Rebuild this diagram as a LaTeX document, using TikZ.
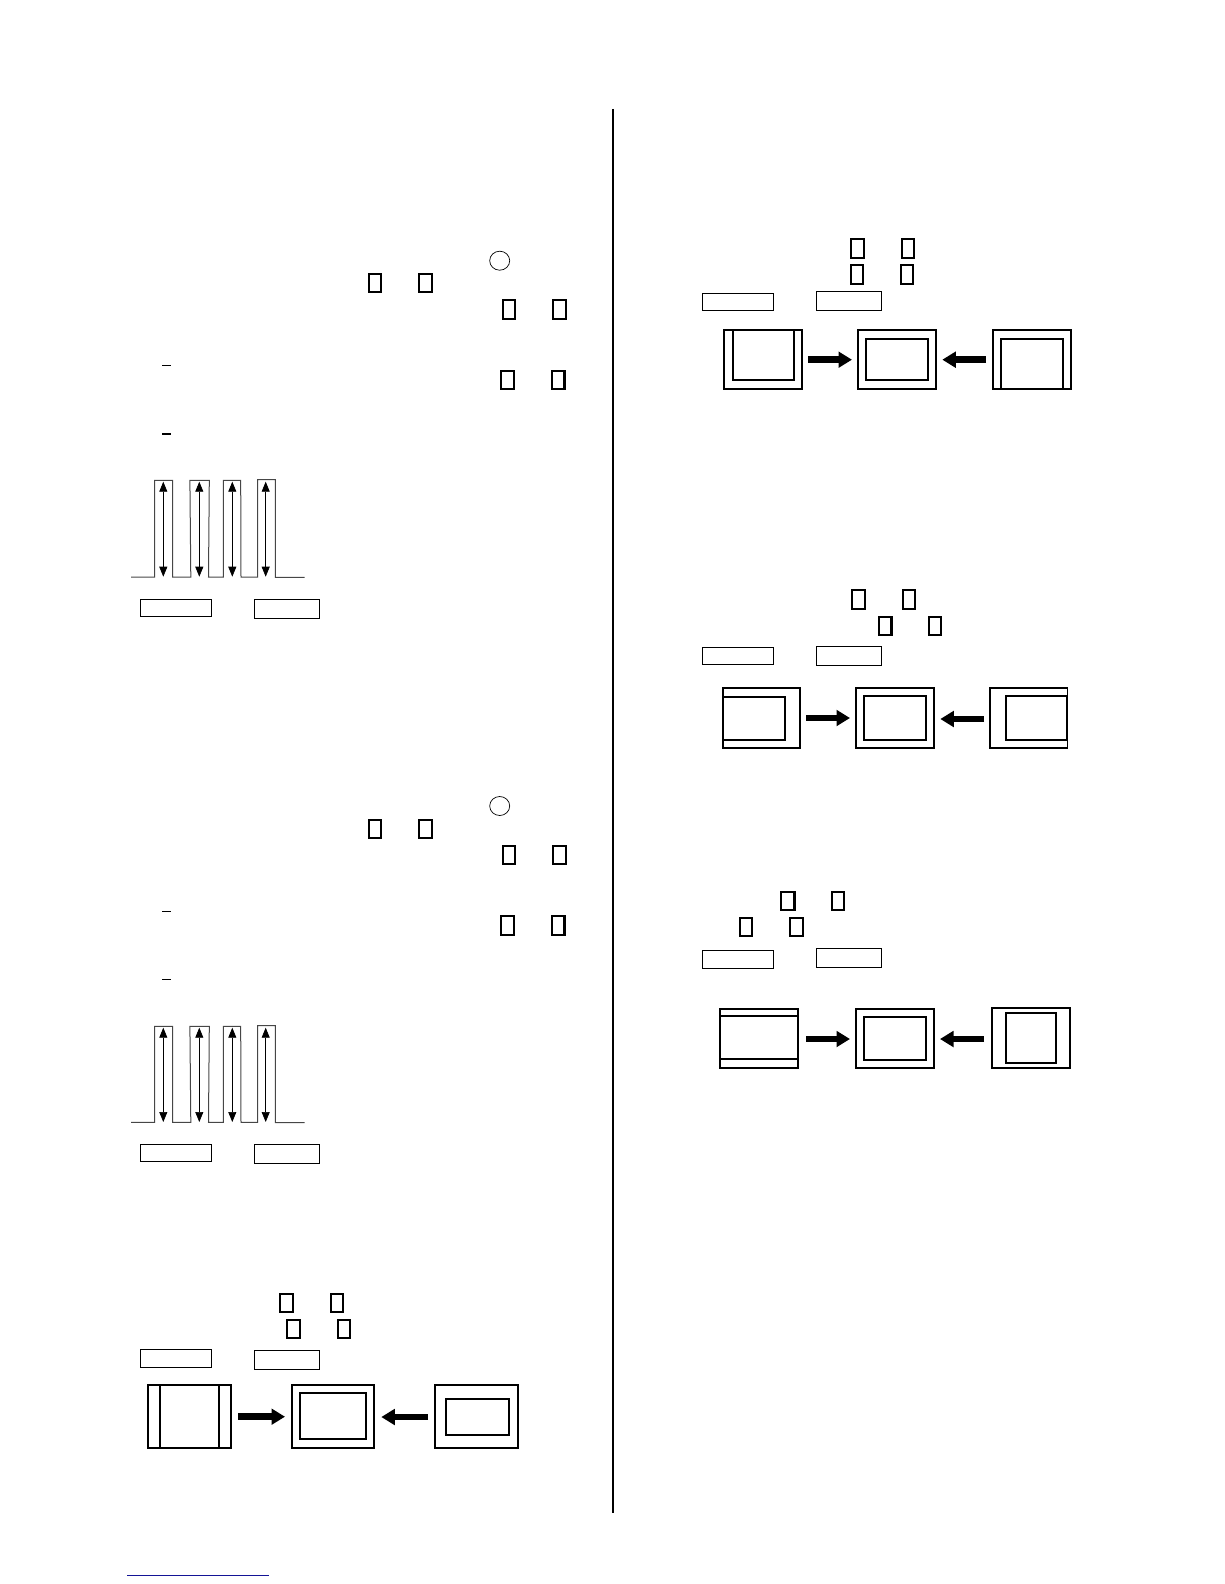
\documentclass[tikz,border=0pt]{standalone}
\usetikzlibrary{arrows.meta,shapes.geometric}
\definecolor{linkblue}{RGB}{20,20,150}
\definecolor{pulsegray}{RGB}{70,70,70}
\tikzset{
  bxbase/.style={draw=black,inner sep=0pt,outer sep=0pt,rectangle},
  smallsq/.style={bxbase,line width=2.3pt,/utils/exec={\def\bxin{1.2}}},
  labelbox/.style={bxbase,line width=0.9pt,/utils/exec={\def\bxin{0.3}}},
  screenbox/.style={bxbase,line width=2pt,/utils/exec={\def\bxin{1}}},
  thinscreen/.style={bxbase,line width=1.3pt,/utils/exec={\def\bxin{0.6}}},
  innerline/.style={draw=black,line width=2pt},
  ringmark/.style={draw=black,line width=0.7pt,ellipse,inner sep=0pt,minimum width=20pt,minimum height=19pt},
  tickline/.style={draw=black,line width=0.8pt},
  boldtick/.style={draw=black,line width=1.9pt},
  pulseline/.style={draw=pulsegray,line width=1pt},
  rangearrow/.style={draw=black,line width=0.7pt,{Triangle[length=10pt,width=8pt]}-{Triangle[length=10pt,width=8pt]}},
  fatarrow/.style={draw=black,line width=6.5pt,-{Triangle[length=13.5pt,width=15.5pt]}},
  divider/.style={draw=black,line width=2.2pt},
  footlink/.style={draw=linkblue,line width=0.9pt}
}
% name, style, x1, y1, x2, y2
\newcommand{\bx}[6]{\node[#2,minimum width={(#5-#3-\bxin)*1pt},minimum height={(#6-#4-\bxin)*1pt}] (#1) at ({(#3+#5)/2},{(#4+#6)/2}) {};}
\begin{document}
\begin{tikzpicture}[x=1pt,y=-1pt]
\useasboundingbox (0,0) rectangle (1224,1584);

% divider and foot
\coordinate (divT) at (613,109);
\coordinate (divB) at (613,1513);
\draw[divider] (divT) -- (divB);
\coordinate (footL) at (127,1575);
\coordinate (footR) at (269,1575);
\draw[footlink] (footL) -- (footR);

% ===== top-left block =====
\node[ringmark] (ringA) at (499.7,260.7) {};
\bx{a1}{smallsq}{368.7}{273.3}{381.7}{292.3}
\bx{a2}{smallsq}{418.3}{273.3}{432.7}{292.3}
\bx{a3}{smallsq}{502.3}{299.3}{515.7}{319.3}
\bx{a4}{smallsq}{552.7}{299.3}{566.7}{319.3}
\bx{a5}{smallsq}{500.3}{370.7}{514.7}{389.3}
\bx{a6}{smallsq}{551.3}{370.7}{565}{389.3}
\coordinate (tickA1) at (162.3,365.3); \coordinate (tickA2) at (171,365.3);
\draw[tickline] (tickA1) -- (tickA2);
\coordinate (tickA3) at (162.3,433.7); \coordinate (tickA4) at (171,433.7);
\draw[boldtick] (tickA3) -- (tickA4);
\draw[pulseline] (131,577) -- (154.7,577) -- (154.7,480.3) -- (172.7,480.3) -- (172.7,577)
  -- (190.8,577) -- (189.9,480.3) -- (209.3,480.3) -- (208.5,577) -- (223.3,577)
  -- (223.3,480.3) -- (240.7,480.3) -- (241,577) -- (257.7,577) -- (257.7,479.7)
  -- (275.3,479.7) -- (275.3,577.3) -- (304.7,577.3);
\foreach \n/\x in {1/163.3,2/199.3,3/232.3,4/265.7}{
  \coordinate (aT\n) at (\x,481.7); \coordinate (aB\n) at (\x,576.7);
  \draw[rangearrow] (aT\n) -- (aB\n);
}
\bx{aL}{labelbox}{140.3}{599.3}{211.7}{616.7}
\bx{aR}{labelbox}{254.3}{599.3}{319.3}{618.7}

% ===== middle-left block =====
\node[ringmark] (ringB) at (499.7,806) {};
\bx{b1}{smallsq}{368.7}{819.3}{381.7}{838.3}
\bx{b2}{smallsq}{418.3}{819.3}{432.7}{838.3}
\bx{b3}{smallsq}{502.3}{845.3}{515.7}{864.3}
\bx{b4}{smallsq}{552.7}{845.3}{566.7}{864.3}
\bx{b5}{smallsq}{500.3}{915.3}{514.7}{935.3}
\bx{b6}{smallsq}{551.3}{915.3}{565}{935.3}
\coordinate (tickB1) at (162.3,911.3); \coordinate (tickB2) at (171,911.3);
\draw[tickline] (tickB1) -- (tickB2);
\coordinate (tickB3) at (162.3,979); \coordinate (tickB4) at (171,979);
\draw[tickline] (tickB3) -- (tickB4);
\draw[pulseline] (131,1122.3) -- (154.7,1122.3) -- (154.7,1026.3) -- (172.7,1026.3) -- (172.7,1122.3)
  -- (190.8,1122.3) -- (189.9,1026.3) -- (209.3,1026.3) -- (208.5,1122.3) -- (223.3,1122.3)
  -- (223.3,1026.3) -- (240.7,1026.3) -- (241,1122.3) -- (257.7,1122.3) -- (257.7,1025.7)
  -- (275.3,1025.7) -- (275.3,1122.6) -- (304.7,1122.6);
\foreach \n/\x in {1/163.3,2/199.3,3/232.3,4/265.7}{
  \coordinate (bT\n) at (\x,1027.7); \coordinate (bB\n) at (\x,1122);
  \draw[rangearrow] (bT\n) -- (bB\n);
}
\bx{bL}{labelbox}{140.3}{1144.3}{211.7}{1161.3}
\bx{bR}{labelbox}{254.3}{1144.3}{319.3}{1163.3}

% ===== bottom-left block =====
\bx{c1}{smallsq}{279.7}{1293.7}{293.7}{1312.3}
\bx{c2}{smallsq}{330.7}{1293.7}{343.7}{1312.3}
\bx{c3}{smallsq}{286.3}{1319.7}{300.7}{1338.3}
\bx{c4}{smallsq}{337.3}{1319.7}{350.7}{1338.3}
\bx{cL}{labelbox}{140.3}{1349.3}{211.7}{1367.7}
\bx{cR}{labelbox}{254.3}{1350.3}{319.3}{1369.3}
\bx{cS1}{screenbox}{147.7}{1384.7}{231.3}{1448.3}
\draw[innerline] (160,1385.2) -- (160,1447.8);
\draw[innerline] (219.3,1385.2) -- (219.3,1447.8);
\bx{cS2}{screenbox}{291.7}{1384.7}{374.7}{1448.3}
\bx{cI2}{screenbox}{299.7}{1392.7}{366.3}{1439}
\bx{cS3}{screenbox}{434.7}{1384.7}{518.3}{1448.3}
\bx{cI3}{screenbox}{445.7}{1398.7}{509.3}{1435}
\coordinate (cA1) at (238,1416.7); \coordinate (cA2) at (285,1416.7);
\draw[fatarrow] (cA1) -- (cA2);
\coordinate (cA3) at (428,1417); \coordinate (cA4) at (381.3,1417);
\draw[fatarrow] (cA3) -- (cA4);

% ===== right block 1 =====
\bx{d1}{smallsq}{850.7}{238.7}{864.7}{258.3}
\bx{d2}{smallsq}{901.3}{238.7}{914.3}{258.3}
\bx{d3}{smallsq}{850.7}{264.7}{863.7}{284.3}
\bx{d4}{smallsq}{900.7}{264.7}{913.7}{284.3}
\bx{dL}{labelbox}{702.3}{293.3}{773.7}{310.7}
\bx{dR}{labelbox}{816.3}{291.3}{881.7}{310.7}
\bx{dS1}{screenbox}{723.7}{329.7}{802.3}{389.3}
\bx{dI1}{screenbox}{732}{329.7}{794.3}{380.7}
\bx{dS2}{screenbox}{857.7}{329.7}{936.3}{389.3}
\bx{dI2}{screenbox}{865.7}{338}{928.3}{380.7}
\bx{dS3}{screenbox}{992.7}{329.7}{1071.7}{389.3}
\bx{dI3}{screenbox}{1000.7}{338}{1063.3}{389.3}
\coordinate (dA1) at (808,359.7); \coordinate (dA2) at (852,359.7);
\draw[fatarrow] (dA1) -- (dA2);
\coordinate (dA3) at (986,359.7); \coordinate (dA4) at (942.3,359.7);
\draw[fatarrow] (dA3) -- (dA4);

% ===== right block 2 =====
\bx{e1}{smallsq}{851.7}{589.3}{865.7}{609.3}
\bx{e2}{smallsq}{902.3}{589.3}{915.7}{609.3}
\bx{e3}{smallsq}{878.3}{616.3}{892}{635.3}
\bx{e4}{smallsq}{928.7}{616.3}{941.7}{635.3}
\bx{eL}{labelbox}{702.3}{647.3}{773.7}{664.7}
\bx{eR}{labelbox}{816.3}{646.3}{881.7}{665.7}
\bx{eS1}{thinscreen}{722.7}{687.7}{800.3}{748.3}
\bx{eI1}{screenbox}{722.7}{696}{785.7}{740}
\bx{eS2}{screenbox}{855.7}{687.7}{934.3}{748.3}
\bx{eI2}{screenbox}{863.7}{695.7}{926.3}{740}
\bx{eS3}{thinscreen}{989.7}{687.7}{1067.7}{748.3}
\bx{eI3}{screenbox}{1005}{695.7}{1067.7}{740}
\coordinate (eA1) at (806,718); \coordinate (eA2) at (850,718);
\draw[fatarrow] (eA1) -- (eA2);
\coordinate (eA3) at (984,719); \coordinate (eA4) at (940.3,719);
\draw[fatarrow] (eA3) -- (eA4);

% ===== right block 3 =====
\bx{f1}{smallsq}{780.7}{891.3}{795}{910.3}
\bx{f2}{smallsq}{831.3}{891.3}{844.7}{910.3}
\bx{f3}{smallsq}{739.7}{917.3}{752.7}{936.3}
\bx{f4}{smallsq}{789.3}{917.3}{803.7}{936.3}
\bx{fL}{labelbox}{702.3}{950.3}{773.7}{968.3}
\bx{fR}{labelbox}{816.3}{948.3}{881.7}{967.3}
\bx{fS1}{screenbox}{719.3}{1008.7}{798.3}{1068.3}
\draw[innerline] (719.8,1015.7) -- (797.8,1015.7);
\draw[innerline] (719.8,1059) -- (797.8,1059);
\bx{fS2}{screenbox}{855.7}{1008.7}{934.3}{1068.3}
\bx{fI2}{screenbox}{863.7}{1016.7}{926.3}{1060}
\bx{fS3}{screenbox}{991.7}{1007.3}{1070.3}{1068.3}
\bx{fI3}{screenbox}{1005.7}{1012.7}{1056.3}{1063}
\coordinate (fA1) at (806,1039); \coordinate (fA2) at (850,1039);
\draw[fatarrow] (fA1) -- (fA2);
\coordinate (fA3) at (984,1039); \coordinate (fA4) at (940,1039);
\draw[fatarrow] (fA3) -- (fA4);
\end{tikzpicture}
\end{document}
